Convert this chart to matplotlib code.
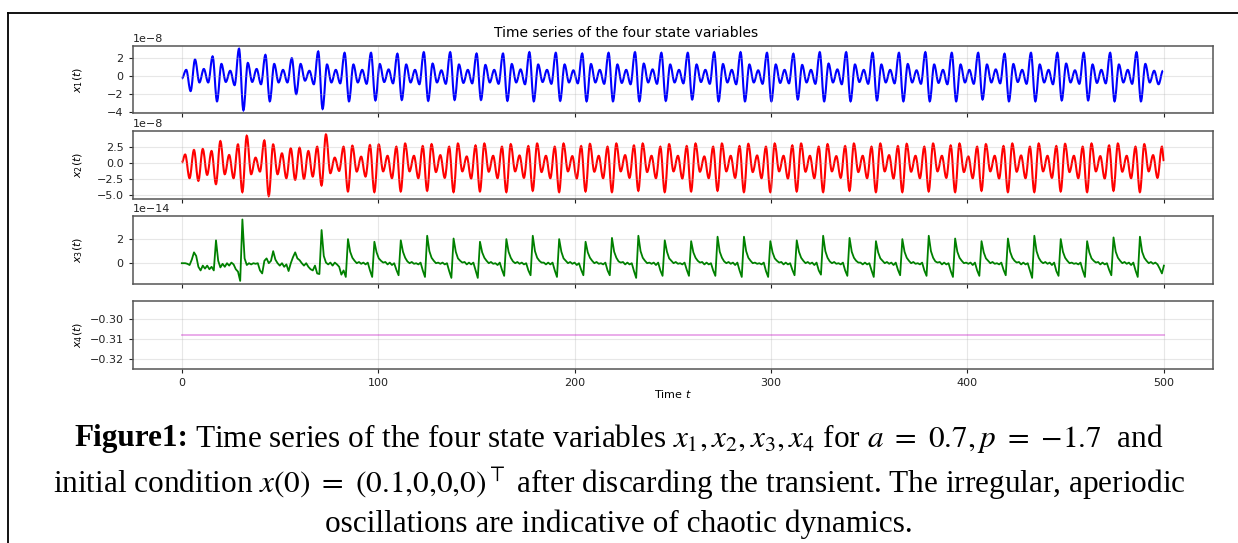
import numpy as np
import matplotlib
matplotlib.use("Agg")
import matplotlib.pyplot as plt
from matplotlib.lines import Line2D
from matplotlib.path import Path
from matplotlib.patches import PathPatch

# time grid of the turning points
DT = 2.24          # spacing of x1 / x2 extrema
X2_T0 = 1.7        # first x2 extremum
X3_T0 = 0.6        # first x3 sample (x3 is sampled at DT/2)
T_END = 500

# x1(t), units of 1e-8 : opening transient then one row per cycle
x1_start = [-0.26, 0.7, -1.66, 1.85, -0.7, 0.8, -0.7, 2.2, -2.8, 1.36,
            -0.64, 0.6, -1.0, 3.05, -3.8, 1.47, -0.64, 0.8, -0.9, 2.37,
            -2.8, 1.36, -0.7, 0.7, -0.7, 2.0, -2.0, 1.36, -0.5, 0.6,
            -0.9, 2.75, -3.65, 1.3, -0.7, 0.7, -0.8]
x1_cycles = [
    [2.6, -2.8, 1.3, -0.7, 0.7, -0.85],
    [2.6, -2.7, 1.35, -0.65, 0.75, -0.8],
    [2.5, -2.65, 1.3, -0.7, 0.7, -0.9],
    [2.67, -2.75, 1.4, -0.7, 0.65, -0.85],
    [2.67, -2.65, 1.3, -0.75, 0.7, -0.8],
    [2.52, -2.65, 1.25, -0.7, 0.7, -0.85],
    [2.52, -2.75, 1.35, -0.7, 0.75, -0.9],
    [2.67, -2.8, 1.3, -0.65, 0.7, -0.85],
    [2.6, -2.75, 1.3, -0.7, 0.65, -0.8],
    [2.52, -2.8, 1.35, -0.7, 0.7, -0.85],
    [2.6, -2.8, 1.3, -0.75, 0.7, -0.9],
    [2.67, -2.8, 1.4, -0.7, 0.75, -0.85],
    [2.6, -2.75, 1.3, -0.7, 0.7, -0.8],
    [2.6, -2.6, 1.3, -0.65, 0.7, -0.85],
    [2.67, -2.8, 1.35, -0.7, 0.7, -0.9],
    [2.67, -2.8, 1.3, -0.7, 0.65, -0.85],
    [2.6, -2.8, 1.3, -0.75, 0.7, -0.8],
    [2.5, -2.6, 1.25, -0.7, 0.7, -0.85],
    [2.67, -2.8, 1.4, -0.7, 0.75, -0.9],
    [2.67, -2.8, 1.3, -0.65, 0.7, -0.85],
    [2.6, -2.7, 1.3, -0.7, 0.7, -0.8],
    [2.6, -2.8, 1.35, -0.7, 0.65, -0.85],
    [2.67, -2.8, 1.3, -0.75, 0.7, -0.9],
    [2.6, -2.8, 1.3, -0.7, 0.7, -0.85],
    [2.6, -2.6, 1.3, -0.7, 0.75, -0.8],
    [2.5, -2.8, 1.35, -0.65, 0.7, -0.85],
    [2.6, -2.8, 1.3, -0.7, 0.7, -0.9],
    [2.6, -2.7, 1.4, -0.7, 0.65, -0.85],
    [2.6, -2.7, 1.3, -0.75, 0.7, -0.8],
    [2.6, -2.8, 1.3, -0.7, 0.7, -0.85],
]
x1_end = [2.67, -2.8, 1.36, -0.7, 0.6, -0.9, 0.6]

# x2(t), units of 1e-8
x2_first = 0.05
x2_start = [1.3, -2.35, 2.0, -2.76, 2.15, -1.84, 1.84, -3.27, 3.37, -1.74,
            1.23, -2.35, 2.86, -4.5, 4.2, -1.74, 0.82, -1.33, 3.48, -5.1,
            2.86, -1.74, 1.48, -2.35, 2.25, -2.6, 2.35, -2.45, 1.84, -2.1,
            2.5, -3.48, 4.4, -1.58, 0.82, -1.23, 2.5, -4.4, 2.66, -1.33,
            0.97, -2.1, 2.76, -4.5, 2.86, -1.3, 1.1, -2.35]
x2_cycles = [
    [2.5, -4.4, 3.0, -1.3, 1.1, -2.35],
    [2.6, -4.3, 2.9, -1.4, 1.2, -2.3],
    [2.5, -4.5, 3.0, -1.3, 1.0, -2.4],
    [2.7, -4.4, 3.0, -1.35, 1.1, -2.35],
    [2.5, -4.5, 2.9, -1.3, 1.15, -2.3],
    [2.6, -4.3, 3.0, -1.4, 1.1, -2.35],
    [2.5, -4.5, 3.0, -1.3, 1.05, -2.4],
    [2.6, -4.4, 2.95, -1.35, 1.1, -2.35],
    [2.5, -4.5, 3.0, -1.3, 1.2, -2.3],
    [2.7, -4.3, 3.0, -1.4, 1.1, -2.35],
    [2.5, -4.5, 2.9, -1.3, 1.1, -2.4],
    [2.6, -4.4, 3.0, -1.35, 1.0, -2.35],
    [2.5, -4.3, 3.0, -1.3, 1.1, -2.3],
    [2.6, -4.5, 2.95, -1.4, 1.15, -2.35],
    [2.5, -4.5, 3.0, -1.3, 1.1, -2.4],
    [2.7, -4.4, 3.0, -1.35, 1.1, -2.35],
    [2.5, -4.5, 2.9, -1.3, 1.05, -2.3],
    [2.6, -4.3, 3.0, -1.4, 1.1, -2.35],
    [2.5, -4.5, 3.0, -1.3, 1.2, -2.4],
    [2.6, -4.5, 2.95, -1.35, 1.1, -2.35],
    [2.5, -4.4, 3.0, -1.3, 1.1, -2.3],
    [2.7, -4.5, 3.0, -1.4, 1.0, -2.35],
    [2.5, -4.3, 2.9, -1.3, 1.1, -2.4],
    [2.6, -4.5, 3.0, -1.35, 1.15, -2.35],
    [2.5, -4.5, 3.0, -1.3, 1.1, -2.3],
    [2.6, -4.4, 2.95, -1.4, 1.1, -2.35],
    [2.5, -4.5, 3.0, -1.3, 1.05, -2.4],
    [2.7, -4.3, 3.0, -1.35, 1.1, -2.35],
    [2.5, -4.5, 2.9, -1.3, 1.2, -2.3],
]
x2_end = [2.5, 0.3]

# x3(t), units of 1e-14
x3_first = 0.0
x3_start = [0.0, 0.0, -0.05, -0.15, 0.3, 0.9, 0.6, -0.3, -0.6, -0.2,
            -0.45, -0.2, -0.5, -0.3, -0.6, 1.9, 0.2, -0.35, -0.05, -0.3,
            0.0, -0.2, 0.05, -0.1, -0.5, -0.7, -1.47, 3.63, 0.4, -0.15,
            0.0, -0.1, 0.0, -0.05, 0.0, -0.6, -0.85, 0.2, 0.4, 0.0,
            0.2, 1.0, 0.3, 0.0, -0.2, 0.0, -0.3, -0.1, -0.65, 0.0,
            0.5, 0.9, 0.4, 0.25, 0.0, -0.2, 0.0, -0.3, -0.5, -0.6,
            -0.2, -0.85, -0.9, 2.75, 0.6, 0.05, -0.1, 0.05, -0.2, 0.05,
            -0.1, -0.3, -0.95, -0.6, -1.14]
x3_cycles = [
    [2.0, 0.95, 0.45, 0.2, 0.0, 0.1, -0.05, 0.05, -0.1, 0.05, -0.6, -1.14],
    [1.78, 0.9, 0.4, 0.2, 0.05, 0.1, -0.1, 0.05, -0.15, 0.0, -0.55, -1.0],
    [1.9, 0.95, 0.45, 0.15, 0.0, 0.1, -0.05, 0.0, -0.1, 0.05, -0.6, -1.14],
    [2.28, 1.0, 0.45, 0.2, 0.0, 0.05, -0.05, 0.05, -0.1, 0.0, -0.65, -1.22],
    [2.05, 0.95, 0.4, 0.2, 0.05, 0.1, -0.1, 0.05, -0.1, 0.05, -0.6, -1.22],
    [1.78, 0.9, 0.45, 0.2, 0.0, 0.1, -0.05, 0.0, -0.15, 0.05, -0.55, -1.05],
    [2.0, 0.95, 0.45, 0.15, 0.0, 0.1, -0.05, 0.05, -0.1, 0.0, -0.6, -1.0],
    [2.28, 1.0, 0.45, 0.2, 0.05, 0.05, -0.1, 0.05, -0.1, 0.05, -0.6, -1.14],
    [2.0, 0.95, 0.4, 0.2, 0.0, 0.1, -0.05, 0.05, -0.15, 0.0, -0.55, -1.0],
    [1.78, 0.9, 0.45, 0.2, 0.0, 0.1, -0.05, 0.0, -0.1, 0.05, -0.6, -1.0],
    [2.1, 0.95, 0.45, 0.15, 0.05, 0.1, -0.1, 0.05, -0.1, 0.0, -0.65, -1.22],
    [2.28, 1.0, 0.45, 0.2, 0.0, 0.05, -0.05, 0.05, -0.15, 0.05, -0.6, -1.05],
    [1.9, 0.95, 0.4, 0.2, 0.0, 0.1, -0.05, 0.0, -0.1, 0.05, -0.55, -1.05],
    [1.83, 0.9, 0.45, 0.2, 0.05, 0.1, -0.1, 0.05, -0.1, 0.0, -0.6, -1.05],
    [2.2, 0.95, 0.45, 0.15, 0.0, 0.1, -0.05, 0.05, -0.15, 0.05, -0.6, -1.14],
    [2.2, 1.0, 0.45, 0.2, 0.0, 0.05, -0.05, 0.0, -0.1, 0.05, -0.65, -1.14],
    [1.83, 0.9, 0.4, 0.2, 0.05, 0.1, -0.1, 0.05, -0.1, 0.0, -0.55, -1.0],
    [1.9, 0.95, 0.45, 0.2, 0.0, 0.1, -0.05, 0.05, -0.15, 0.05, -0.6, -0.95],
    [2.28, 1.0, 0.45, 0.15, 0.0, 0.1, -0.05, 0.0, -0.1, 0.05, -0.6, -1.05],
    [2.1, 0.95, 0.45, 0.2, 0.05, 0.05, -0.1, 0.05, -0.1, 0.0, -0.6, -1.14],
    [1.83, 0.9, 0.4, 0.2, 0.0, 0.1, -0.05, 0.05, -0.15, 0.05, -0.55, -1.0],
    [2.0, 0.95, 0.45, 0.2, 0.0, 0.1, -0.05, 0.0, -0.1, 0.05, -0.6, -1.05],
    [2.28, 1.0, 0.45, 0.15, 0.05, 0.1, -0.1, 0.05, -0.1, 0.0, -0.65, -1.14],
    [2.05, 0.95, 0.45, 0.2, 0.0, 0.05, -0.05, 0.05, -0.15, 0.05, -0.6, -1.05],
    [1.83, 0.9, 0.4, 0.2, 0.0, 0.1, -0.05, 0.0, -0.1, 0.05, -0.55, -1.0],
    [2.05, 0.95, 0.45, 0.2, 0.05, 0.1, -0.1, 0.05, -0.1, 0.0, -0.6, -1.22],
    [2.28, 1.0, 0.45, 0.15, 0.0, 0.1, -0.05, 0.05, -0.15, 0.05, -0.65, -1.05],
    [2.0, 0.95, 0.45, 0.2, 0.0, 0.05, -0.05, 0.0, -0.1, 0.05, -0.6, -1.14],
    [1.83, 0.9, 0.4, 0.2, 0.05, 0.1, -0.1, 0.05, -0.1, 0.0, -0.55, -1.0],
    [2.14, 0.95, 0.45, 0.2, 0.0, 0.1, -0.05, 0.05, -0.15, 0.05, -0.6, -1.14],
]
x3_end = [2.2, 0.95, 0.45, 0.2, 0.0, 0.1, -0.05, 0.05, -0.1, -0.45, -0.85, -0.2]

# x4(t) stays on its fixed point
x4_level = -0.3079

labels = [r'$x_1(t)$', r'$x_2(t)$', r'$x_3(t)$', r'$x_4(t)$']
colors = ['#0000ff', '#ff0000', '#008000', 'm']
yticks = [[-4, -2, 0, 2], [-5, -2.5, 0, 2.5], [0, 2], [-0.32, -0.31, -0.30]]

# assemble series
x1 = np.concatenate([x1_start, np.ravel(x1_cycles), x1_end]) * 1e-8
t1 = DT * np.arange(len(x1))

x2_mid = np.concatenate([x2_start, np.ravel(x2_cycles), x2_end[:1]])
t2 = np.concatenate([[0], X2_T0 + DT * np.arange(len(x2_mid)), [T_END]])
x2 = np.concatenate([[x2_first], x2_mid, x2_end[1:]]) * 1e-8

x3_mid = np.concatenate([x3_start, np.ravel(x3_cycles), x3_end[:-1]])
t3 = np.concatenate([[0], X3_T0 + DT / 2 * np.arange(len(x3_mid)), [T_END]])
x3 = np.concatenate([[x3_first], x3_mid, x3_end[-1:]]) * 1e-14

t4 = np.array([0, T_END])
x4 = np.array([x4_level, x4_level])


def smooth_path(t, x, k=0.36):
    # cubic Bezier between turning points, flat tangent at each one
    verts = [(t[0], x[0])]
    codes = [Path.MOVETO]
    for i in range(len(t) - 1):
        h = t[i + 1] - t[i]
        verts += [(t[i] + k * h, x[i]), (t[i + 1] - k * h, x[i + 1]),
                  (t[i + 1], x[i + 1])]
        codes += [Path.CURVE4] * 3
    return Path(verts, codes)


plt.rcParams['font.family'] = 'DejaVu Sans'
plt.rcParams['mathtext.fontset'] = 'dejavusans'

fig = plt.figure(figsize=(12.38, 5.43), dpi=100)
bottoms = [0.7913, 0.6335, 0.4770, 0.3204]
axes = []
for b in bottoms:
    ax = fig.add_axes([0.1072, b, 0.8726, 0.1245],
                      sharex=axes[0] if axes else None)
    axes.append(ax)

series = [(t1, x1), (t2, x2), (t3, x3), (t4, x4)]
for i, (ax, (t, x)) in enumerate(zip(axes, series)):
    if i < 2:
        ax.add_patch(PathPatch(smooth_path(t, x), fill=False,
                               edgecolor=colors[i], lw=1.5))
        ax.autoscale_view()
    elif i == 2:
        ax.plot(t, x, color=colors[i], lw=1.3)
    else:
        ax.plot(t, x, color=colors[i], lw=1.3, alpha=0.35)
    scale = [1e-8, 1e-8, 1e-14, 1][i]
    ax.set_yticks(np.array(yticks[i]) * scale)
    ax.set_ylabel(labels[i], fontsize=8)
    ax.yaxis.set_label_coords(-0.044, 0.5)
    ax.grid(True, alpha=0.3)
    ax.tick_params(labelsize=8, length=3, width=0.8, colors='#222222')
    ax.yaxis.get_offset_text().set_fontsize(8)
    for s in ax.spines.values():
        s.set_color('#555555')
        s.set_linewidth(1.1)
    if i < 3:
        plt.setp(ax.get_xticklabels(), visible=False)

axes[3].set_xticks([0, 100, 200, 300, 400, 500])
axes[3].set_xlabel(r'Time $t$', fontsize=8, labelpad=0)

fig.text(0.5057, 0.939, 'Time series of the four state variables',
         ha='center', va='center', fontsize=10)

# caption under the chart
cap_kw = dict(va='center', fontsize=22.5, family='Liberation Serif',
              math_fontfamily='stix')
renderer = fig.canvas.get_renderer()
fig_w = fig.bbox.width

head = fig.text(0, 0.193, 'Figure1:', fontweight='bold', ha='left', **cap_kw)
body = fig.text(0, 0.193,
                r'Time series of the four state variables '
                r'$x_1, x_2, x_3, x_4$ for $a\ =\ 0.7, p\ =\ {-}1.7$  and',
                ha='left', **cap_kw)
gap = 7
w_head = head.get_window_extent(renderer).width
w_body = body.get_window_extent(renderer).width
x0 = (fig_w - (w_head + gap + w_body)) / 2
head.set_x(x0 / fig_w)
body.set_x((x0 + w_head + gap) / fig_w)

fig.text(0.5, 0.110,
         r'initial condition $x(0)\ =\ (0.1{,}0{,}0{,}0)^{\top}$ after discarding the '
         r'transient. The irregular, aperiodic', ha='center', **cap_kw)
fig.text(0.5, 0.035, 'oscillations are indicative of chaotic dynamics.',
         ha='center', **cap_kw)

# page frame lines (top and left)
fig.add_artist(Line2D([0.0065, 1.0], [0.976, 0.976], color='black', lw=1.3,
                      transform=fig.transFigure))
fig.add_artist(Line2D([0.0065, 0.0065], [0.0, 0.976], color='black', lw=1.3,
                      transform=fig.transFigure))

fig.savefig('out.png', dpi=100)
